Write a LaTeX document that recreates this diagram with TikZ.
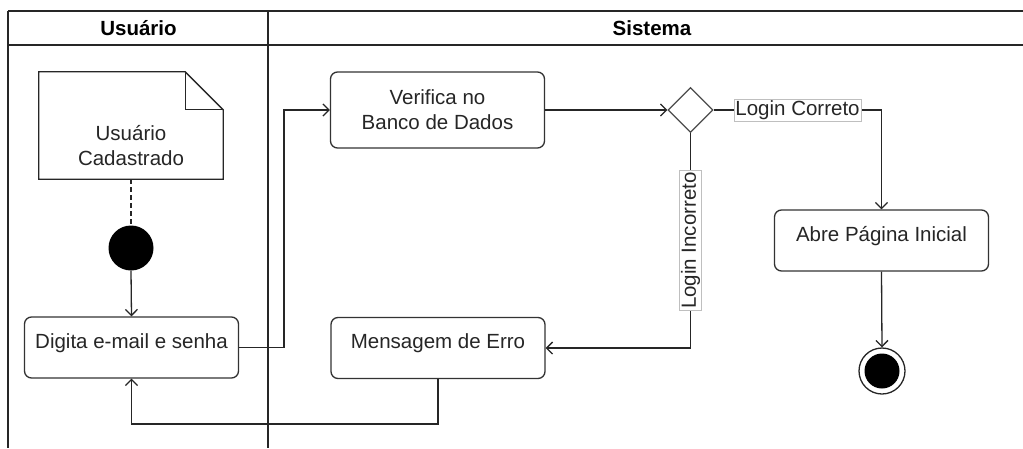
\documentclass[tikz,border=0pt]{standalone}
\usepackage{fontspec}
\setmainfont{Liberation Sans}
\usetikzlibrary{arrows.meta,shapes.geometric}

\begin{document}
\begin{tikzpicture}[x=1pt,y=-1pt,
  every node/.style={font=\fontsize{20.5}{25}\selectfont, text=black!85},
  lane/.style={draw=black!85, line width=1.3pt},
  actbox/.style={draw=black!80, line width=1.3pt, fill=white, rounded corners=7pt,
    minimum width=214pt, inner sep=2pt, align=center},
  oneline/.style={actbox, minimum height=61pt, text height=15pt, text depth=14pt},
  flow/.style={draw=black!85, line width=1.3pt, -{Straight Barb[length=6pt,width=12pt]}},
  guard/.style={draw=black!25, fill=white, inner sep=1.5pt, line width=0.6pt},
  startdot/.style={circle, fill=black, minimum size=45pt, inner sep=0pt},
  enddot/.style={circle, draw=black!85, line width=1.3pt, fill=white, minimum size=46pt, inner sep=0pt,
    path picture={\fill[black] (path picture bounding box.center) circle (17.5pt);}},
  choice/.style={diamond, draw=black!70, line width=1.2pt, fill=white, minimum size=45pt, inner sep=0pt},
]
\useasboundingbox (0,0) rectangle (1023,448);

% swimlanes
\draw[lane] (8,11) -- (1023,11);
\draw[lane] (8,45) -- (1023,45);
\draw[lane] (8,11) -- (8,448);
\draw[lane] (268,11) -- (268,448);
\node[font=\fontsize{20.5}{25}\selectfont\bfseries, text=black] (hU) at (138.5,28) {Usuário};
\node[font=\fontsize{20.5}{25}\selectfont\bfseries, text=black] (hS) at (652,28) {Sistema};

% note with folded corner
\node[minimum width=184pt, minimum height=107pt, inner sep=0pt] (note) at (131,125.5) {};
\draw[draw=black!85, line width=1.3pt, fill=white]
  (note.north west) -- ([xshift=-38pt]note.north east) -- ([yshift=-38pt]note.north east)
  -- (note.south east) -- (note.south west) -- cycle;
\draw[draw=black!85, line width=1.3pt]
  ([xshift=-38pt]note.north east) |- ([yshift=-38pt]note.north east);
\node[align=center] (notetext) at (131,146) {Usuário\\Cadastrado};

% activity nodes
\node[startdot] (start) at (131,248) {};
\node[oneline] (digita) at (131.5,347.5) {Digita e-mail e senha};
\node[actbox, minimum height=76pt] (verifica) at (437.5,110) {Verifica no\\Banco de Dados};
\node[choice] (dec) at (690.5,110) {};
\node[oneline] (abre) at (881.5,240.5) {Abre Página Inicial};
\node[oneline] (erro) at (438,348) {Mensagem de Erro};
\node[enddot] (fim) at (882,371) {};

% connectors
\draw[draw=black!85, line width=1.3pt, dashed, dash pattern=on 5pt off 3pt] (note.south) -- (start.north);
\draw[flow] (start.south) -- (digita.north);
\draw[flow] (digita.east) -- (284,347.5) |- (verifica.west);
\draw[flow] (verifica.east) -- (dec.west);
\draw[flow] (dec.east) -| node[guard, pos=0.25] (lc) {Login Correto} (abre.north);
\draw[flow] (dec.south) |- node[guard, pos=0.25, rotate=90] (li) {Login Incorreto} (erro.east);
\draw[flow] (abre.south) -- (fim.north);
\draw[flow] (erro.south) -- (438,424) -| (digita.south);
\end{tikzpicture}
\end{document}
